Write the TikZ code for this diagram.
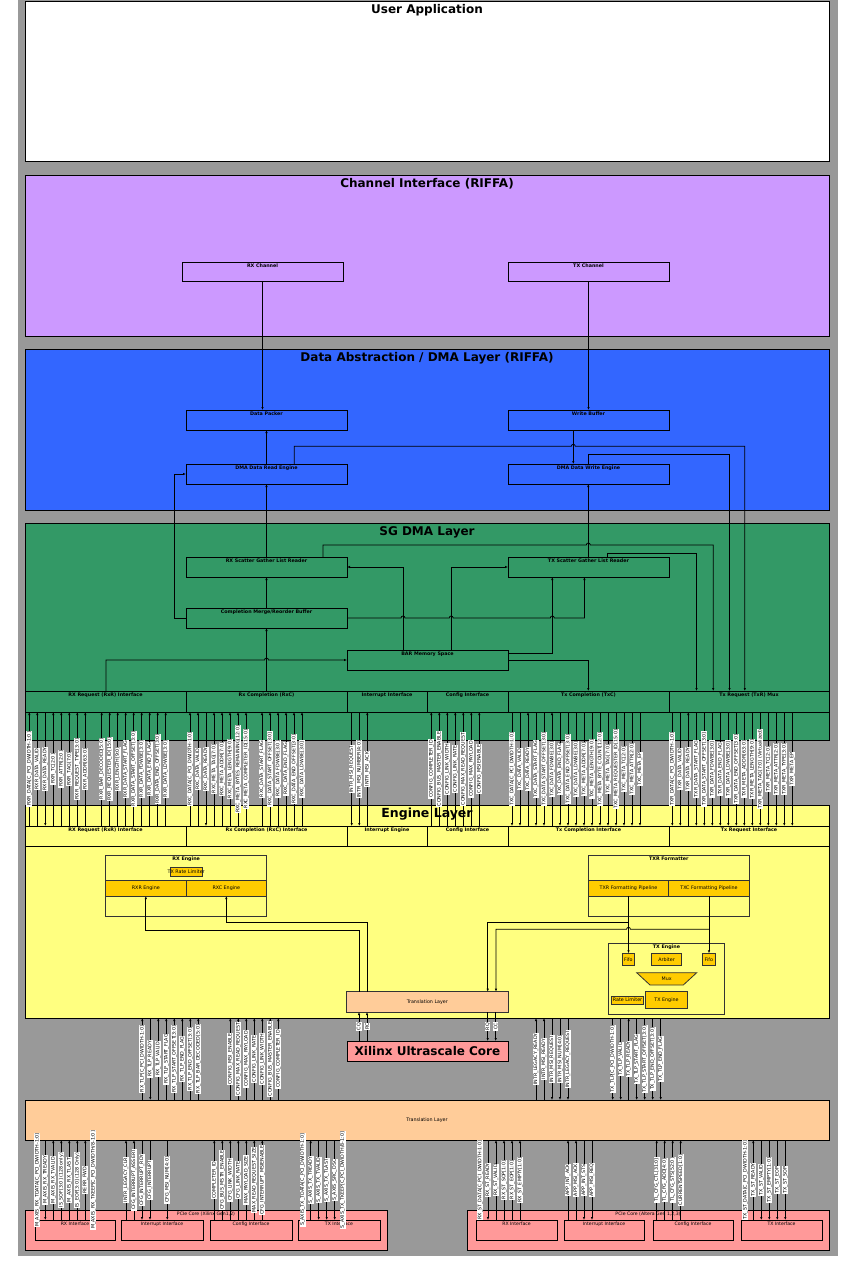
\documentclass[tikz,border=0pt]{standalone}
\usepackage{fontspec}
\setmainfont{DejaVu Sans}
\usetikzlibrary{arrows.meta,shapes.geometric}
\definecolor{cBg}{HTML}{999999}
\definecolor{cP}{HTML}{CC99FF}
\definecolor{cB}{HTML}{3366FF}
\definecolor{cG}{HTML}{339966}
\definecolor{cY}{HTML}{FFFF80}
\definecolor{cO}{HTML}{FFCC00}
\definecolor{cT}{HTML}{FFCC99}
\definecolor{cR}{HTML}{FF9999}
% box with title at the top
\newcommand\TBox[8]{%
  \node[#1, minimum width={(#6-#4)*1pt}, minimum height={(#7-#5)*1pt}] (#3) at ({(#4+#6)/2},{(#5+#7)/2}) {};
  \node[#2, anchor=north] (#3-t) at (#3.north) {#8};}
% box with centred text
\newcommand\CBox[8]{%
  \node[#1, minimum width={(#6-#4)*1pt}, minimum height={(#7-#5)*1pt}] (#3) at ({(#4+#6)/2},{(#5+#7)/2}) {};
  \node[#2] (#3-t) at (#3.center) {#8};}
% group of vertical signal lines between two nodes
\newcommand\SigGrp[3]{%
  \foreach \sx/\slab/\sdr in {#3}{%
    \if U\sdr
      \draw[sig,<-] (\sx,0 |- #1.south) -- node[siglab]{\slab} (\sx,0 |- #2.north);
    \else
      \draw[sig,->] (\sx,0 |- #1.south) -- node[siglab]{\slab} (\sx,0 |- #2.north);
    \fi}}
\AtBeginDocument{\catcode`\_=12\relax}
\begin{document}
\begin{tikzpicture}[x=1pt,y=-1pt,
  >={Latex[length=3pt,width=2.4pt]},
  lay/.style={draw=black, line width=0.9pt, inner sep=0pt, outer sep=0pt},
  ltitle/.style={font=\fontsize{12}{14}\selectfont\bfseries, inner sep=3pt},
  bx/.style={draw=black, line width=0.8pt, inner sep=0pt, outer sep=0pt},
  ebx/.style={draw=black!80, line width=0.8pt, inner sep=0pt, outer sep=0pt},
  btitle/.style={font=\fontsize{4.8}{5.5}\selectfont\bfseries, inner sep=1.3pt},
  itxt/.style={font=\fontsize{4.8}{5.5}\selectfont, inner sep=0pt},
  ptitle/.style={font=\fontsize{4.6}{5.5}\selectfont, inner sep=1.3pt},
  xfont/.style={font=\fontsize{12}{14}\selectfont\bfseries, inner sep=0pt},
  conn/.style={line width=0.75pt},
  sig/.style={line width=0.6pt},
  siglab/.style={fill=white, inner sep=0.7pt, rotate=90, font=\fontsize{4.8}{5.5}\selectfont}]
\useasboundingbox (0,0) rectangle (848,1265);
\fill[cBg] (18,0) rectangle (838,1256);
% ---------- layers ----------
\TBox{lay,fill=white}{ltitle}{ua}{25}{1}{829}{161}{User Application}
\TBox{lay,fill=cP}{ltitle}{ci}{25}{175}{829}{336}{Channel Interface (RIFFA)}
\TBox{lay,fill=cB}{ltitle}{dma}{25}{349}{829}{510}{Data Abstraction / DMA Layer (RIFFA)}
\TBox{lay,fill=cG}{ltitle}{sg}{25}{523}{829}{740}{SG DMA Layer}
\node[lay,fill=cY,minimum width=804pt,minimum height=213pt] (eng) at (427,911.5) {};
% ---------- channel / DMA ----------
\TBox{bx}{btitle}{rxch}{182}{262}{343}{281}{RX Channel}
\TBox{bx}{btitle}{txch}{508}{262}{669}{281}{TX Channel}
\TBox{bx}{btitle}{dpk}{186}{410}{347}{430}{Data Packer}
\TBox{bx}{btitle}{wbuf}{508}{410}{669}{430}{Write Buffer}
\TBox{bx}{btitle}{dre}{186}{464}{347}{484}{DMA Data Read Engine}
\TBox{bx}{btitle}{dwe}{508}{464}{669}{484}{DMA Data Write Engine}
% ---------- SG DMA ----------
\TBox{bx}{btitle}{rxsg}{186}{557}{347}{577}{RX Scatter Gather List Reader}
\TBox{bx}{btitle}{txsg}{508}{557}{669}{577}{TX Scatter Gather List Reader}
\TBox{bx}{btitle}{cmrb}{186}{608}{347}{628}{Completion Merge/Reorder Buffer}
\TBox{bx}{btitle}{bar}{347}{650}{508}{670}{BAR Memory Space}
\TBox{bx}{btitle}{srxr}{25}{691}{186}{712}{RX Request (RxR) Interface}
\TBox{bx}{btitle}{srxc}{186}{691}{347}{712}{Rx Completion (RxC)}
\TBox{bx}{btitle}{sint}{347}{691}{427}{712}{Interrupt Interface}
\TBox{bx}{btitle}{scfg}{427}{691}{508}{712}{Config Interface}
\TBox{bx}{btitle}{stxc}{508}{691}{669}{712}{Tx Completion (TxC)}
\TBox{bx}{btitle}{stxr}{669}{691}{829}{712}{Tx Request (TxR) Mux}
% ---------- Engine layer ----------
\TBox{bx}{btitle}{erxr}{25}{826}{186}{846}{RX Request (RxR) Interface}
\TBox{bx}{btitle}{erxc}{186}{826}{347}{846}{Rx Completion (RxC) Interface}
\TBox{bx}{btitle}{eint}{347}{826}{427}{846}{Interrupt Engine}
\TBox{bx}{btitle}{ecfg}{427}{826}{508}{846}{Config Interface}
\TBox{bx}{btitle}{etxc}{508}{826}{669}{846}{Tx Completion Interface}
\TBox{bx}{btitle}{etxr}{669}{826}{829}{846}{Tx Request Interface}
\TBox{ebx}{btitle}{rxeng}{105.7}{855.7}{266.7}{916.3}{RX Engine}
\CBox{ebx,fill=cO}{itxt}{trl}{170.3}{867.7}{202}{876}{TX Rate Limiter}
\CBox{ebx,fill=cO}{itxt}{rxre}{105.7}{880}{186}{896}{RXR Engine}
\CBox{ebx,fill=cO}{itxt}{rxce}{186}{880}{266.7}{896}{RXC Engine}
\TBox{ebx}{btitle}{txrf}{588.3}{855.7}{749.3}{916.3}{TXR Formatter}
\CBox{ebx,fill=cO}{itxt}{txrp}{588.3}{880}{668.7}{896}{TXR Formatting Pipeline}
\CBox{ebx,fill=cO}{itxt}{txcp}{668.7}{880}{749.3}{896}{TXC Formatting Pipeline}
\TBox{ebx}{btitle}{txe}{608.7}{943.3}{724.3}{1014}{TX Engine}
\CBox{ebx,fill=cO}{itxt}{fifo1}{622.3}{953.3}{634.3}{965.7}{Fifo}
\CBox{ebx,fill=cO}{itxt}{arb}{651.3}{953.3}{681.7}{965.7}{Arbiter}
\CBox{ebx,fill=cO}{itxt}{fifo2}{702.7}{953.3}{715}{965.7}{Fifo}
\draw[ebx,fill=cO] (636.7,972.7) -- (696.7,972.7) -- (683.3,985) -- (650,985) -- cycle;
\node[itxt] (mux) at (666.7,978.9) {Mux};
\CBox{ebx,fill=cO}{itxt}{rlim}{611.7}{996}{643.3}{1004}{Rate Limiter}
\CBox{ebx,fill=cO}{itxt}{txei}{645.7}{991.7}{687.3}{1008.3}{TX Engine}
\CBox{ebx,fill=cT}{itxt}{etl}{346.7}{991.7}{508}{1012}{Translation Layer}
% ---------- core, translation, PCIe ----------
\CBox{lay,fill=cR}{xfont}{xc}{347}{1041}{508}{1061}{Xilinx Ultrascale Core}
\CBox{lay,fill=cT}{itxt}{btl}{25}{1100}{829}{1140}{Translation Layer}
\TBox{lay,fill=cR}{ptitle}{px}{25}{1210}{387}{1250}{PCIe Core (Xilinx Gen1,2)}
\TBox{lay,fill=cR}{ptitle}{pa}{467}{1210}{829}{1250}{PCIe Core (Altera Gen 1,2,3)}
\TBox{bx}{ptitle}{xrx}{35}{1220}{115}{1240}{RX Interface}
\TBox{bx}{ptitle}{xint}{121}{1220}{203}{1240}{Interrupt Interface}
\TBox{bx}{ptitle}{xcfg}{210}{1220}{292}{1240}{Config Interface}
\TBox{bx}{ptitle}{xtx}{298}{1220}{380}{1240}{TX Interface}
\TBox{bx}{ptitle}{arx}{476}{1220}{557}{1240}{RX Interface}
\TBox{bx}{ptitle}{aint}{564}{1220}{644}{1240}{Interrupt Interface}
\TBox{bx}{ptitle}{acfg}{653}{1220}{733}{1240}{Config Interface}
\TBox{bx}{ptitle}{atx}{741}{1220}{822}{1240}{TX Interface}
% ---------- connectors: DMA layer ----------
\draw[conn,->] (rxch.south) -- (rxch.south |- dpk.north);
\draw[conn,->] (txch.south) -- (txch.south |- wbuf.north);
\draw[conn,->] (dre.north) -- (dpk.south);
\draw[conn,->] (573.3,0 |- wbuf.south) -- (573.3,0 |- dwe.north);
\draw[conn,->] (294.3,0 |- dre.north) -- (294.3,446.3) -- (571.3,446.3) arc[start angle=180,end angle=0,radius=2pt] -- (744.8,446.3) -- (744.8,0 |- stxr.north);
\draw[conn,->] (588,0 |- dwe.north) -- (588,454.3) -- (729.5,454.3) -- (729.5,0 |- stxr.north);
% ---------- connectors: SG DMA layer ----------
\draw[conn,->] (588.3,0 |- txsg.north) -- (588.3,0 |- dwe.south);
\draw[conn,->] (rxsg.north) -- (dre.south);
\draw[conn,->] (cmrb.west) -- ++(-12,0) |- (dre.west);
\draw[conn,->] (322.9,0 |- rxsg.north) -- (322.9,545) -- (586.3,545) arc[start angle=180,end angle=0,radius=2pt] -- (713.2,545) -- (713.2,0 |- stxr.north);
\draw[conn,->] (607.3,0 |- txsg.north) -- (607.3,553.3) -- (696.5,553.3) -- (696.5,0 |- stxr.north);
\draw[conn,->] (cmrb.north) -- (rxsg.south);
\draw[conn,->] (cmrb.east) -- (401,618) arc[start angle=180,end angle=0,radius=2pt] -- (449.2,618) arc[start angle=180,end angle=0,radius=2pt] -- (550.3,618) arc[start angle=180,end angle=0,radius=2pt] -- (584.4,618) -- (584.4,0 |- txsg.south);
\draw[conn,->] (403,0 |- bar.north) |- (rxsg.east);
\draw[conn,->] (451.2,0 |- bar.north) |- (txsg.west);
\draw[conn,->] (bar.east |- 0,653.3) -| (552.3,0 |- txsg.south);
\draw[conn,->] (bar.east) -| (588.3,0 |- stxc.north);
\draw[conn,->] (106,0 |- srxr.north) -- (106,660) -- (264.5,660) arc[start angle=180,end angle=0,radius=2pt] -- (bar.west);
\draw[conn,->] (srxc.north) -- (cmrb.south);
% ---------- connectors: Engine layer ----------
\draw[conn,->] (359,0 |- etl.north) -- (359,930) -| (rxre.south);
\draw[conn,->] (367,0 |- etl.north) -- (367,922.3) -| (rxce.south);
\draw[conn,->] (txrp.south) -- (txrp.south |- fifo1.north);
\draw[conn,->] (628.5,922.3) -| (487.7,0 |- etl.north);
\draw[conn,->] (txcp.south) -- (txcp.south |- fifo2.north);
\draw[conn,->] (709,929.3) -- (630.5,929.3) arc[start angle=0,end angle=180,radius=2pt] -- (496,929.3) -- (496,0 |- etl.north);
% ---------- core links ----------
\draw[sig,<-] (359,0 |- etl.south) -- node[siglab]{CQ} (359,0 |- xc.north);
\draw[sig,<-] (367,0 |- etl.south) -- node[siglab]{RC} (367,0 |- xc.north);
\draw[sig,->] (487.7,0 |- etl.south) -- node[siglab]{RQ} (487.7,0 |- xc.north);
\draw[sig,->] (495.7,0 |- etl.south) -- node[siglab]{CC} (495.7,0 |- xc.north);
% ---------- SG DMA <-> Engine signals ----------
\SigGrp{srxr}{erxr}{29.3/{RXR_DATA[C_PCI_DWIDTH-1:0]}/U, 37.3/{RXR_DATA_VALID}/U, 45.3/{RXR_DATA_READY}/D, 53.3/{RXR_TC[2:0]}/U, 61.3/{RXR_ATTR[2:0]}/U, 69.3/{RXR_TAG[7:0]}/U, 77.3/{RXR_REQUEST_TYPE[3:0]}/U, 85.3/{RXR_ADDR[63:0]}/U, 101.7/{RXR_BAR_DECODED[5:0]}/U, 109.7/{RXR_REQUESTER_ID[15:0]}/U, 117.7/{RXR_LENGTH[9:0]}/U, 125.7/{RXR_DATA_START_FLAG}/U, 133.7/{RXR_DATA_START_OFFSET[3:0]}/U, 141.7/{RXR_DATA_FDWBE[3:0]}/U, 149.7/{RXR_DATA_END_FLAG}/U, 157.7/{RXR_DATA_END_OFFSET[3:0]}/U, 165.7/{RXR_DATA_LDWBE[3:0]}/U}
\SigGrp{srxc}{erxc}{190/{RXC_DATA[C_PCI_DWIDTH-1:0]}/U, 198/{RXC_DATA_VALID}/U, 206/{RXC_DATA_READY}/D, 214/{RXC_META_TAG[7:0]}/U, 222/{RXC_META_ADDR[7:0]}/U, 230/{RXC_META_LENGTH[9:0]}/U, 238/{RXC_META_BYTES_REMAINING[12:0]}/U, 246/{RXC_META_COMPLETER_ID[15:0]}/U, 262/{RXC_DATA_START_FLAG}/U, 270/{RXC_DATA_START_OFFSET[3:0]}/U, 278/{RXC_DATA_FDWBE[3:0]}/U, 286/{RXC_DATA_END_FLAG}/U, 294/{RXC_DATA_END_OFFSET[3:0]}/U, 302/{RXC_DATA_LDWBE[3:0]}/U}
\SigGrp{sint}{eint}{351.7/{INTR_MSI_REQUEST}/D, 359.3/{INTR_MSI_NUMBER[4:0]}/D, 367.3/{INTR_MSI_ACK}/U}
\SigGrp{scfg}{ecfg}{431.3/{CONFIG_COMPLETER_ID}/U, 439.3/{CONFIG_BUS_MASTER_ENABLE}/U, 447.3/{CONFIG_LINK_WIDTH}/U, 455.3/{CONFIG_LINK_RATE}/U, 463.3/{CONFIG_MAX_READ_REQUEST}/U, 471.3/{CONFIG_MAX_PAYLOAD}/U, 479.3/{CONFIG_MSIENABLE}/U}
\SigGrp{stxc}{etxc}{512/{TXC_DATA[C_PCI_DWIDTH-1:0]}/D, 520/{TXC_DATA_VALID}/D, 528/{TXC_DATA_READY}/U, 536/{TXC_DATA_START_FLAG}/D, 544/{TXC_DATA_START_OFFSET[3:0]}/D, 552/{TXC_DATA_FDWBE[3:0]}/U, 560/{TXC_DATA_END_FLAG}/D, 568/{TXC_DATA_END_OFFSET[3:0]}/D, 576/{TXC_DATA_LDWBE[3:0]}/D, 584/{TXC_META_ADDR[7:0]}/D, 592/{TXC_META_LENGTH[9:0]}/D, 600/{TXC_META_BYTE_COUNT[12:0]}/D, 608/{TXC_META_TAG[7:0]}/D, 616/{TXC_META_REQUESTER_ID[15:0]}/D, 624/{TXC_META_TC[2:0]}/D, 632/{TXC_META_ATTR[2:0]}/D, 640/{TXC_META_EP}/D}
\SigGrp{stxr}{etxr}{672.3/{TXR_DATA[C_PCI_DWIDTH-1:0]}/D, 680.3/{TXR_DATA_VALID}/D, 688.3/{TXR_DATA_READY}/U, 696.3/{TXR_DATA_START_FLAG}/D, 704.3/{TXR_DATA_START_OFFSET[3:0]}/D, 712.3/{TXR_DATA_FDWBE[3:0]}/D, 720.3/{TXR_DATA_END_FLAG}/D, 728.3/{TXR_DATA_LDWBE[3:0]}/D, 736.3/{TXR_DATA_END_OFFSET[3:0]}/D, 744.3/{TXR_META_ADDR[63:0]}/D, 752.3/{TXR_META_LENGTH[9:0]}/D, 760.3/{TXR_META_TAG[7:0] (Virtualized)}/D, 768.3/{TXR_META_TC[2:0]}/D, 776.3/{TXR_META_ATTR[2:0]}/D, 784.3/{TXR_META_TYPE[3:0]}/D, 792.3/{TXR_META_EP}/D}
% ---------- Engine <-> Translation signals ----------
\SigGrp{eng}{btl}{142.3/{RX_TLP[C_PCI_DWIDTH-1:0]}/U, 150.3/{RX_TLP_READY}/D, 158.3/{RX_TLP_VALID}/U, 166.3/{RX_TLP_START_FLAG}/U, 174.3/{RX_TLP_START_OFFSET[3:0]}/U, 182.3/{RX_TLP_END_FLAG}/U, 190.3/{RX_TLP_END_OFFSET[3:0]}/U, 198.3/{RX_TLP_BAR_DECODED[5:0]}/U}
\SigGrp{eng}{btl}{230.3/{CONFIG_MSI_ENABLE}/U, 238.3/{CONFIG_MAX_READ_REQUEST}/U, 246.3/{CONFIG_MAX_PAYLOAD}/U, 254.3/{CONFIG_LINK_RATE}/U, 262.3/{CONFIG_LINK_WIDTH}/U, 270.3/{CONFIG_BUS_MASTER_ENABLE}/U, 278.3/{CONFIG_COMPLETER_ID}/U}
\SigGrp{eng}{btl}{536/{INTR_LEGACY_READY}/U, 544/{INTR_MSI_READY}/U, 552/{INTR_MSI_REQUEST}/D, 560/{INTR_MSI_NUM[4:0]}/D, 568/{INTR_LEGACY_REQUEST}/D}
\SigGrp{eng}{btl}{612.7/{TX_TLP[C_PCI_DWIDTH-1:0]}/D, 620.7/{TX_TLP_VALID}/D, 628.7/{TX_TLP_READY}/U, 636.7/{TX_TLP_START_FLAG}/D, 644.7/{TX_TLP_START_OFFSET[3:0]}/D, 652.7/{TX_TLP_END_OFFSET[3:0]}/D, 660.7/{TX_TLP_END_FLAG}/D}
% ---------- Translation <-> PCIe cores ----------
\SigGrp{btl}{xrx}{37.3/{M_AXIS_RX_TDATA[C_PCI_DWIDTH-1:0]}/U, 45.3/{M_AXIS_RX_TREADY}/D, 53.3/{M_AXIS_RX_TVALID}/U, 61.3/{IS_SOF[3:0] (128 only)}/U, 69.3/{M_AXIS_RX_TLAST}/U, 77.3/{IS_EOF[3:0] (128 Only)}/U, 85.3/{RERR_FWD}/U, 93.3/{M_AXIS_RX_TKEEP[C_PCI_DWIDTH/8-1:0]}/U}
\SigGrp{btl}{xint}{126/{INTR_LEGACY_CLR}/U, 134/{CFG_INTERRUPT_ASSERT}/U, 142/{CFG_INTERRUPT_RDY}/D, 150/{CFG_INTERRUPT}/D, 167.3/{CFG_MSI_NUM[4:0]}/D}
\SigGrp{btl}{xcfg}{214.3/{COMPLETER_ID}/U, 222.3/{CFG_BUS_MSTR_ENABLE}/U, 230.3/{CFG_LINK_WIDTH}/U, 238.3/{CFG_LINK_RATE}/U, 246.3/{MAX_PAYLOAD_SIZE}/U, 254.3/{MAX_READ_REQUEST_SIZE}/U, 262.3/{CFG_INTERRUPT_MSIENABLE}/U}
\SigGrp{btl}{xtx}{302.7/{S_AXIS_TX_TDATA[C_PCI_DWIDTH-1:0]}/D, 310.7/{S_AXIS_TX_TREADY}/U, 318.7/{S_AXIS_TX_TVALID}/D, 326.7/{S_AXIS_TX_TLAST}/D, 334.7/{S_AXIS_SRC_DSC}/D, 342.7/{S_AXIS_TX_TKEEP[C_PCI_DWIDTH/8-1:0]}/D}
\SigGrp{btl}{arx}{480/{RX_ST_DATA[C_PCI_DWIDTH-1:0]}/U, 488/{RX_ST_READY}/D, 496/{RX_ST_VALID}/U, 504/{RX_ST_SOP[1:0]}/U, 512/{RX_ST_EOP[1:0]}/U, 520/{RX_ST_EMPTY[1:0]}/U}
\SigGrp{btl}{aint}{568/{APP_INT_ACK}/U, 576/{APP_MSI_ACK}/U, 584/{APP_INT_STS}/D, 592/{APP_MSI_REQ}/D}
\SigGrp{btl}{acfg}{656.7/{TL_CFG_CTL[31:0]}/U, 664.7/{TL_CFG_ADD[4:0]}/U, 672.7/{TL_CFG_STS[52:0]}/U, 680.7/{CURRENTSPEED[1:0]}/U}
\SigGrp{btl}{atx}{745.3/{TX_ST_DATA[C_PCI_DWIDTH-1:0]}/D, 753.3/{TX_ST_READY}/U, 761.3/{TX_ST_VALID}/D, 769.3/{TX_ST_EMPTY[1:0]}/D, 777.3/{TX_ST_EOP}/D, 785.3/{TX_ST_SOP}/D}
% ---------- Engine layer title on top ----------
\node[ltitle, anchor=north, font=\fontsize{12.5}{14}\selectfont\bfseries] (eng-t) at (eng.north) {Engine Layer};
\end{tikzpicture}
\end{document}
